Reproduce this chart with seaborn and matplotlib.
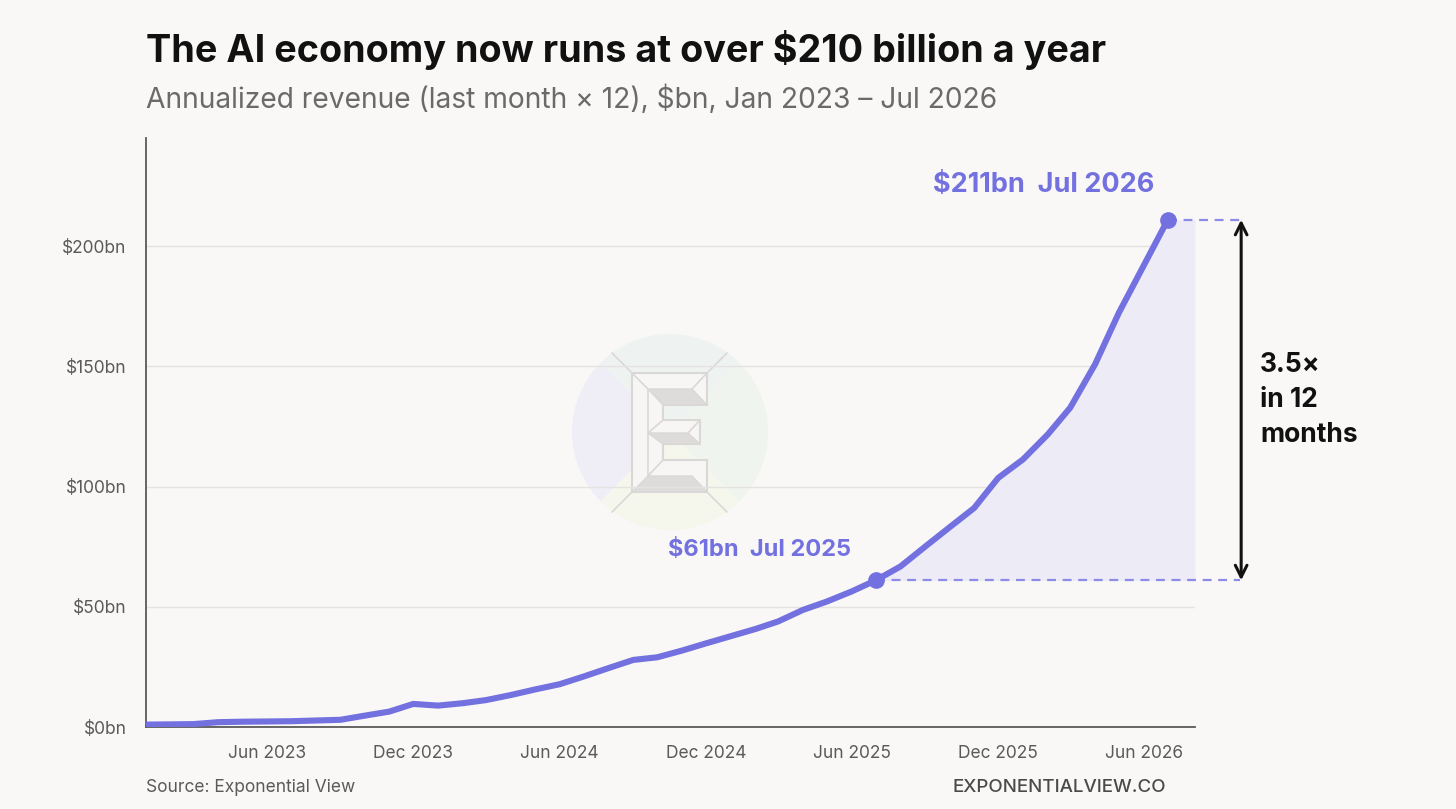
import matplotlib
matplotlib.use("Agg")
import matplotlib.pyplot as plt
import matplotlib.dates as mdates
import matplotlib.transforms as mtransforms
from matplotlib.patches import Wedge, Polygon
import seaborn as sns
import pandas as pd

# data: annualized AI revenue, $bn (monthly, Jan 2023 - Jul 2026)
months = pd.date_range("2023-01-01", "2026-07-01", freq="MS")
revenue = [1.0, 1.1, 1.2, 2.0, 2.2, 2.3, 2.4, 2.7, 3.0, 4.7, 6.4, 9.6,
           8.9, 9.9, 11.2, 13.3, 15.6, 17.8, 21.0, 24.5, 27.9, 29.0, 31.8, 34.8,
           37.8, 40.8, 43.9, 48.7, 52.2, 56.4, 61.0, 66.8, 75.1, 83.0, 91.1, 103.6,
           111.3, 121.7, 132.8, 150.8, 172.4, 192.0, 211.0]
y_ticks = [0, 50, 100, 150, 200]
y_labels = ["$0bn", "$50bn", "$100bn", "$150bn", "$200bn"]
start_label = "$61bn  Jul 2025"
end_label = "$211bn  Jul 2026"
growth_label = "3.5×\nin 12\nmonths"

df = pd.DataFrame({"month": months, "revenue": revenue})

PURPLE = "#7370E0"
DASH = "#8E8BE8"
FILL = "#ECEBF6"
BG = "#F9F8F7"
GRAY = "#5A5A5A"

sns.set_theme(style="white")
plt.rcParams["font.family"] = ["Inter", "DejaVu Sans"]

fig = plt.figure(figsize=(14.56, 8.09), dpi=100)
fig.patch.set_facecolor(BG)

# watermark layer in pixel coordinates (y axis points down)
bg = fig.add_axes([0, 0, 1, 1], zorder=0)
bg.set_xlim(0, 1456)
bg.set_ylim(809, 0)
bg.axis("off")
cx, cy, r = 670, 432, 98
for t1, t2, c in [(135, 225, "#EFEEF6"), (225, 315, "#EEF3F1"),
                  (-45, 45, "#EFF5EE"), (45, 135, "#F5F6EC")]:
    bg.add_patch(Wedge((cx, cy), r, t1, t2, facecolor=c, edgecolor="none"))
ecol = "#DAD8D6"
for (xa, ya), (xb, yb) in [((612, 353), (632, 373)), ((727, 353), (707, 373)),
                           ((612, 512), (632, 492)), ((727, 512), (707, 492))]:
    bg.plot([xa, xb], [ya, yb], color=ecol, lw=1.2)
e_outer = [(632, 373), (707, 373), (707, 405), (663, 405), (663, 420), (700, 420),
           (700, 444), (663, 444), (663, 460), (707, 460), (707, 492), (632, 492)]
bg.add_patch(Polygon(e_outer, closed=True, facecolor="#F7F6F4", edgecolor=ecol, lw=1.5))
for quad in [[(648, 389), (692, 389), (707, 405), (663, 405)],
             [(648, 433), (688, 433), (700, 444), (663, 444)],
             [(648, 476), (692, 476), (707, 492), (632, 492)]]:
    bg.add_patch(Polygon(quad, closed=True, facecolor="#DEDCDA", edgecolor=ecol, lw=1))
bg.plot([648, 648], [389, 476], color=ecol, lw=1.2)
bg.plot([632, 648], [373, 389], color=ecol, lw=1.2)
bg.plot([707, 692], [373, 389], color=ecol, lw=1.2)
bg.plot([663, 648], [420, 433], color=ecol, lw=1.2)
bg.plot([700, 688], [420, 433], color=ecol, lw=1.2)
bg.plot([663, 648], [460, 476], color=ecol, lw=1.2)

ax = fig.add_axes([146 / 1456, 1 - 727 / 809, 1049 / 1456, 589 / 809], zorder=1)
ax.patch.set_alpha(0)

x0 = mdates.date2num(pd.Timestamp("2023-01-01"))
x1 = mdates.date2num(pd.Timestamp("2026-08-04"))
ax.set_xlim(x0, x1)
ax.set_ylim(0, 245)

# shaded region over the last 12 months
i0 = list(months).index(pd.Timestamp("2025-07-01"))
fx = list(mdates.date2num(months[i0:])) + [x1]
fy = revenue[i0:] + [revenue[-1]]
ax.fill_between(fx, revenue[i0], fy, color=FILL, lw=0, zorder=1)

sns.lineplot(data=df, x="month", y="revenue", ax=ax, color=PURPLE,
             linewidth=4.4, zorder=3, solid_joinstyle="round")

p0 = (mdates.date2num(months[i0]), revenue[i0])
p1 = (mdates.date2num(months[-1]), revenue[-1])
x_dash_end = x0 + 1.043 * (x1 - x0)
for px, py in (p0, p1):
    ax.plot([px, x_dash_end], [py, py], color=DASH, lw=1.6, ls=(0, (4, 3)),
            clip_on=False, zorder=2)
    ax.plot(px, py, "o", color=PURPLE, ms=11, zorder=4, clip_on=False)

ax.annotate(start_label, xy=p0, xytext=(-116, 24), textcoords="offset pixels",
            ha="center", va="baseline", color=PURPLE, fontsize=17, fontweight="bold")
ax.annotate(end_label, xy=p1, xytext=(-124, 28), textcoords="offset pixels",
            ha="center", va="baseline", color=PURPLE, fontsize=19.5, fontweight="bold")

blend = mtransforms.blended_transform_factory(ax.transAxes, ax.transData)
ax.annotate("", xy=(1.044, revenue[-1]), xytext=(1.044, revenue[i0]),
            xycoords=blend, textcoords=blend,
            arrowprops=dict(arrowstyle="<->,head_length=0.7,head_width=0.35",
                            color="#111111", lw=2.2, shrinkA=0, shrinkB=0))
ax.text(1.062, (revenue[-1] + revenue[i0]) / 2, growth_label, transform=blend,
        ha="left", va="center", fontsize=19, fontweight="bold", color="#111111",
        linespacing=1.45)

ax.set_yticks(y_ticks)
ax.set_yticklabels(y_labels)
ax.xaxis.set_major_locator(mdates.MonthLocator(bymonth=[6, 12]))
ax.xaxis.set_major_formatter(mdates.DateFormatter("%b %Y"))
ax.set_xlabel("")
ax.set_ylabel("")
ax.tick_params(axis="both", colors=GRAY, labelsize=12.5, length=5, width=1.2,
               direction="out")
ax.tick_params(axis="x", pad=8)
ax.tick_params(axis="y", pad=9)
ax.grid(axis="y", color="#E5E3E1", lw=1)
ax.grid(axis="x", visible=False)
for s in ["top", "right"]:
    ax.spines[s].set_visible(False)
for s in ["left", "bottom"]:
    ax.spines[s].set_color(GRAY)
    ax.spines[s].set_linewidth(1.3)

fig.text(146 / 1456, 1 - 62 / 809, "The AI economy now runs at over $210 billion a year",
         fontsize=27.2, fontweight="bold", color="#111111", va="baseline", ha="left")
fig.text(146 / 1456, 1 - 108 / 809,
         "Annualized revenue (last month × 12), $bn, Jan 2023 – Jul 2026",
         fontsize=20.3, color="#6A6A6A", va="baseline", ha="left")
fig.text(146 / 1456, 1 - 792 / 809, "Source: Exponential View",
         fontsize=12.5, color=GRAY, va="baseline", ha="left")
fig.text(1166 / 1456, 1 - 792 / 809, "EXPONENTIALVIEW.CO",
         fontsize=13.5, color="#4A4A4A", va="baseline", ha="right", fontweight="medium")

fig.savefig("out.png", dpi=100, facecolor=BG)
